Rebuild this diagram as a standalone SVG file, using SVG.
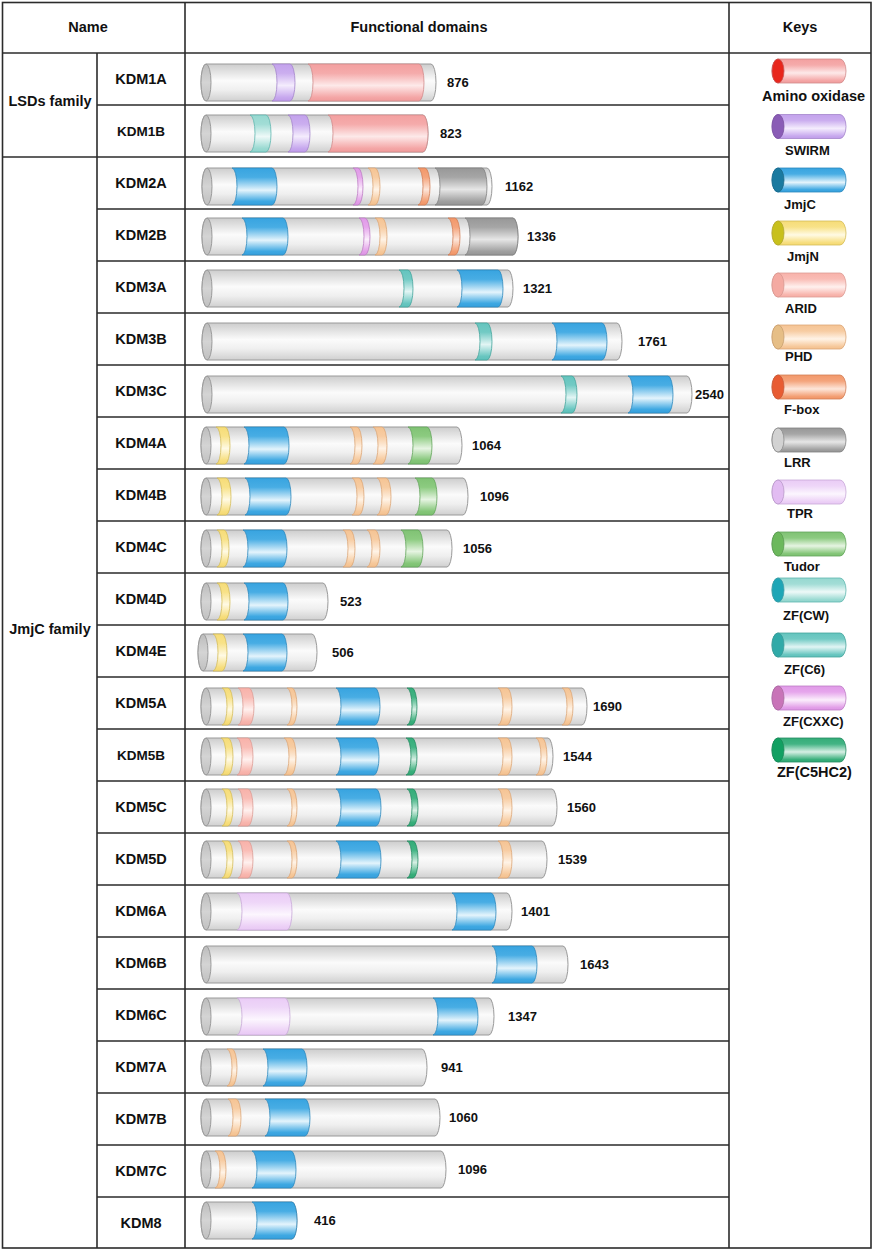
<svg xmlns="http://www.w3.org/2000/svg" width="873" height="1250" viewBox="0 0 873 1250">
<defs>
<linearGradient id="gBody" x1="0" y1="0" x2="0" y2="1"><stop offset="0" stop-color="#cdcdcd"/><stop offset="0.45" stop-color="#fbfbfb"/><stop offset="0.7" stop-color="#efefef"/><stop offset="1" stop-color="#d0d0d0"/></linearGradient>
<linearGradient id="gCap" x1="0" y1="0" x2="0" y2="1"><stop offset="0" stop-color="#bcbcbc"/><stop offset="0.5" stop-color="#d4d4d4"/><stop offset="1" stop-color="#c0c0c0"/></linearGradient>
<linearGradient id="gAO" x1="0" y1="0" x2="0" y2="1"><stop offset="0" stop-color="#f3a0a0"/><stop offset="0.25" stop-color="#f5abab"/><stop offset="0.58" stop-color="#fde9e9"/><stop offset="0.9" stop-color="#f4a6a6"/><stop offset="1" stop-color="#ef9c9c"/></linearGradient>
<linearGradient id="gSW" x1="0" y1="0" x2="0" y2="1"><stop offset="0" stop-color="#c3a2ec"/><stop offset="0.25" stop-color="#cbaeef"/><stop offset="0.58" stop-color="#f4ecfd"/><stop offset="0.9" stop-color="#c7a8ee"/><stop offset="1" stop-color="#bf9ce8"/></linearGradient>
<linearGradient id="gJC" x1="0" y1="0" x2="0" y2="1"><stop offset="0" stop-color="#38a4e0"/><stop offset="0.25" stop-color="#48ade4"/><stop offset="0.6" stop-color="#e4f4fc"/><stop offset="0.9" stop-color="#3ea8e2"/><stop offset="1" stop-color="#369fdc"/></linearGradient>
<linearGradient id="gJN" x1="0" y1="0" x2="0" y2="1"><stop offset="0" stop-color="#f6dc78"/><stop offset="0.25" stop-color="#f8e288"/><stop offset="0.58" stop-color="#fffae4"/><stop offset="0.9" stop-color="#f7de7e"/><stop offset="1" stop-color="#f4d870"/></linearGradient>
<linearGradient id="gAR" x1="0" y1="0" x2="0" y2="1"><stop offset="0" stop-color="#f8b2aa"/><stop offset="0.25" stop-color="#f9bcb5"/><stop offset="0.58" stop-color="#fff0ee"/><stop offset="0.9" stop-color="#f8b6ae"/><stop offset="1" stop-color="#f6aca4"/></linearGradient>
<linearGradient id="gPH" x1="0" y1="0" x2="0" y2="1"><stop offset="0" stop-color="#f5c494"/><stop offset="0.25" stop-color="#f7cca2"/><stop offset="0.58" stop-color="#fff3e6"/><stop offset="0.9" stop-color="#f6c89a"/><stop offset="1" stop-color="#f3c08e"/></linearGradient>
<linearGradient id="gFB" x1="0" y1="0" x2="0" y2="1"><stop offset="0" stop-color="#f2986a"/><stop offset="0.25" stop-color="#f4a47c"/><stop offset="0.58" stop-color="#fde6da"/><stop offset="0.9" stop-color="#f39e72"/><stop offset="1" stop-color="#f09466"/></linearGradient>
<linearGradient id="gLR" x1="0" y1="0" x2="0" y2="1"><stop offset="0" stop-color="#989898"/><stop offset="0.25" stop-color="#a6a6a6"/><stop offset="0.58" stop-color="#e6e6e6"/><stop offset="0.9" stop-color="#a0a0a0"/><stop offset="1" stop-color="#949494"/></linearGradient>
<linearGradient id="gTP" x1="0" y1="0" x2="0" y2="1"><stop offset="0" stop-color="#eaccf6"/><stop offset="0.25" stop-color="#eed6f8"/><stop offset="0.58" stop-color="#fcf6fe"/><stop offset="0.9" stop-color="#ecd0f6"/><stop offset="1" stop-color="#e8c8f4"/></linearGradient>
<linearGradient id="gTU" x1="0" y1="0" x2="0" y2="1"><stop offset="0" stop-color="#80c274"/><stop offset="0.25" stop-color="#8ccb80"/><stop offset="0.58" stop-color="#e6f4e2"/><stop offset="0.9" stop-color="#84c678"/><stop offset="1" stop-color="#7cbf70"/></linearGradient>
<linearGradient id="gCW" x1="0" y1="0" x2="0" y2="1"><stop offset="0" stop-color="#96d8d0"/><stop offset="0.25" stop-color="#a2ddd6"/><stop offset="0.58" stop-color="#eef9f8"/><stop offset="0.9" stop-color="#9adad2"/><stop offset="1" stop-color="#90d4cc"/></linearGradient>
<linearGradient id="gC6" x1="0" y1="0" x2="0" y2="1"><stop offset="0" stop-color="#64c4be"/><stop offset="0.25" stop-color="#72cac4"/><stop offset="0.58" stop-color="#e2f5f4"/><stop offset="0.9" stop-color="#68c6c0"/><stop offset="1" stop-color="#5ec0ba"/></linearGradient>
<linearGradient id="gCX" x1="0" y1="0" x2="0" y2="1"><stop offset="0" stop-color="#e09ae8"/><stop offset="0.25" stop-color="#e6a6ec"/><stop offset="0.58" stop-color="#fbeefc"/><stop offset="0.9" stop-color="#e29ee8"/><stop offset="1" stop-color="#dc94e4"/></linearGradient>
<linearGradient id="gC5" x1="0" y1="0" x2="0" y2="1"><stop offset="0" stop-color="#34ac78"/><stop offset="0.25" stop-color="#42b484"/><stop offset="0.58" stop-color="#d6efe4"/><stop offset="0.9" stop-color="#38ae7a"/><stop offset="1" stop-color="#30a874"/></linearGradient>
</defs>
<style>
.ln{stroke:#2b2b2b;stroke-width:1.6;fill:none}
text{font-family:"Liberation Sans",Arial,Helvetica,sans-serif;font-weight:bold;fill:#111}
.hd{font-size:14.5px;text-anchor:middle}
.nm{font-size:14.5px;text-anchor:middle}
.nm2{font-size:13.5px;text-anchor:middle}
.num{font-size:13px}
.key{font-size:13px}
.keyw{font-size:14.5px}
.body{fill:url(#gBody);stroke:#9a9a9a;stroke-width:1}
.cap{fill:url(#gCap);stroke:#9a9a9a;stroke-width:1}
.ao{fill:url(#gAO);stroke:#d08a8a;stroke-width:.8}
.sw{fill:url(#gSW);stroke:#a384cc;stroke-width:.8}
.jc{fill:url(#gJC);stroke:#2c88bc;stroke-width:.8}
.jn{fill:url(#gJN);stroke:#d4bc58;stroke-width:.8}
.ar{fill:url(#gAR);stroke:#dc9c94;stroke-width:.8}
.ph{fill:url(#gPH);stroke:#dca676;stroke-width:.8}
.fb{fill:url(#gFB);stroke:#d27e56;stroke-width:.8}
.lr{fill:url(#gLR);stroke:#808080;stroke-width:.8}
.tp{fill:url(#gTP);stroke:#c8a8d8;stroke-width:.8}
.tu{fill:url(#gTU);stroke:#62a45a;stroke-width:.8}
.cw{fill:url(#gCW);stroke:#5eb6ae;stroke-width:.8}
.c6{fill:url(#gC6);stroke:#44a49c;stroke-width:.8}
.cx{fill:url(#gCX);stroke:#bc7cc4;stroke-width:.8}
.c5{fill:url(#gC5);stroke:#248c62;stroke-width:.8}
</style>
<rect x="0" y="0" width="873" height="1250" fill="#ffffff"/>

<g id="table">
<rect class="ln" x="2.5" y="2.5" width="868.5" height="1245.5"/>
<line class="ln" x1="2.5" y1="53" x2="871" y2="53"/>
<line class="ln" x1="185" y1="2.5" x2="185" y2="1248"/>
<line class="ln" x1="729" y1="2.5" x2="729" y2="1248"/>
<line class="ln" x1="97" y1="53" x2="97" y2="1248"/>
<line class="ln" x1="2.5" y1="157" x2="729" y2="157"/>
<path class="ln" d="M97,105H729M97,209H729M97,261H729M97,313H729M97,365H729M97,417H729M97,469H729M97,521H729M97,573H729M97,625H729M97,677H729M97,729H729M97,781H729M97,833H729M97,885H729M97,937H729M97,989H729M97,1041H729M97,1093H729M97,1145H729M97,1197H729"/>
<text class="hd" x="88" y="32">Name</text>
<text class="hd" x="419" y="32">Functional domains</text>
<text class="hd" x="800" y="32">Keys</text>
<text class="hd" x="50" y="106">LSDs family</text>
<text class="hd" x="50" y="634">JmjC family</text>
</g>

<g id="KDM1A">
<text class="nm" x="141" y="84">KDM1A</text>
<g transform="translate(0,64)">
<path class="body" d="M206,0H431a5,18.5 0 0 1 0,37H206a5,18.5 0 0 1 0,-37Z"/>
<path class="sw" d="M272,0a5,18.5 0 0 1 0,37H290a5,18.5 0 0 0 0,-37Z"/>
<path class="ao" d="M308,0a5,18.5 0 0 1 0,37H419a5,18.5 0 0 0 0,-37Z"/>
<ellipse class="cap" cx="206" cy="18.5" rx="5" ry="18.5"/>
<text class="num" x="447" y="23">876</text>
</g></g>

<g id="KDM1B">
<text class="nm2" x="141" y="136">KDM1B</text>
<g transform="translate(0,115)">
<path class="body" d="M206,0H423a5,18.5 0 0 1 0,37H206a5,18.5 0 0 1 0,-37Z"/>
<path class="cw" d="M250,0a5,18.5 0 0 1 0,37H266a5,18.5 0 0 0 0,-37Z"/>
<path class="sw" d="M288,0a5,18.5 0 0 1 0,37H305a5,18.5 0 0 0 0,-37Z"/>
<path class="ao" d="M328,0a5,18.5 0 0 1 0,37H423a5,18.5 0 0 0 0,-37Z"/>
<ellipse class="cap" cx="206" cy="18.5" rx="5" ry="18.5"/>
<text class="num" x="440" y="23">823</text>
</g></g>

<g id="KDM2A">
<text class="nm" x="141" y="188">KDM2A</text>
<g transform="translate(0,168)">
<path class="body" d="M207,0H487a5,18.5 0 0 1 0,37H207a5,18.5 0 0 1 0,-37Z"/>
<path class="jc" d="M232,0a5,18.5 0 0 1 0,37H272a5,18.5 0 0 0 0,-37Z"/>
<path class="cx" d="M353,0a5,18.5 0 0 1 0,37H358a5,18.5 0 0 0 0,-37Z"/>
<path class="ph" d="M368,0a5,18.5 0 0 1 0,37H375a5,18.5 0 0 0 0,-37Z"/>
<path class="fb" d="M418,0a5,18.5 0 0 1 0,37H425a5,18.5 0 0 0 0,-37Z"/>
<path class="lr" d="M435,0a5,18.5 0 0 1 0,37H482a5,18.5 0 0 0 0,-37Z"/>
<ellipse class="cap" cx="207" cy="18.5" rx="5" ry="18.5"/>
<text class="num" x="505" y="23">1162</text>
</g></g>

<g id="KDM2B">
<text class="nm" x="141" y="240">KDM2B</text>
<g transform="translate(0,218)">
<path class="body" d="M207,0H513a5,18.5 0 0 1 0,37H207a5,18.5 0 0 1 0,-37Z"/>
<path class="jc" d="M242,0a5,18.5 0 0 1 0,37H283a5,18.5 0 0 0 0,-37Z"/>
<path class="cx" d="M359,0a5,18.5 0 0 1 0,37H365a5,18.5 0 0 0 0,-37Z"/>
<path class="ph" d="M375,0a5,18.5 0 0 1 0,37H382a5,18.5 0 0 0 0,-37Z"/>
<path class="fb" d="M448,0a5,18.5 0 0 1 0,37H455a5,18.5 0 0 0 0,-37Z"/>
<path class="lr" d="M465,0a5,18.5 0 0 1 0,37H513a5,18.5 0 0 0 0,-37Z"/>
<ellipse class="cap" cx="207" cy="18.5" rx="5" ry="18.5"/>
<text class="num" x="527" y="23">1336</text>
</g></g>

<g id="KDM3A">
<text class="nm" x="141" y="292">KDM3A</text>
<g transform="translate(0,270)">
<path class="body" d="M207,0H508a5,18.5 0 0 1 0,37H207a5,18.5 0 0 1 0,-37Z"/>
<path class="c6" d="M399,0a5,18.5 0 0 1 0,37H408a5,18.5 0 0 0 0,-37Z"/>
<path class="jc" d="M457,0a5,18.5 0 0 1 0,37H498a5,18.5 0 0 0 0,-37Z"/>
<ellipse class="cap" cx="207" cy="18.5" rx="5" ry="18.5"/>
<text class="num" x="523" y="23">1321</text>
</g></g>

<g id="KDM3B">
<text class="nm" x="141" y="344">KDM3B</text>
<g transform="translate(0,323)">
<path class="body" d="M207,0H617a5,18.5 0 0 1 0,37H207a5,18.5 0 0 1 0,-37Z"/>
<path class="c6" d="M475,0a5,18.5 0 0 1 0,37H487a5,18.5 0 0 0 0,-37Z"/>
<path class="jc" d="M552,0a5,18.5 0 0 1 0,37H602a5,18.5 0 0 0 0,-37Z"/>
<ellipse class="cap" cx="207" cy="18.5" rx="5" ry="18.5"/>
<text class="num" x="638" y="23">1761</text>
</g></g>

<g id="KDM3C">
<text class="nm" x="141" y="396">KDM3C</text>
<g transform="translate(0,376)">
<path class="body" d="M207,0H687a5,18.5 0 0 1 0,37H207a5,18.5 0 0 1 0,-37Z"/>
<path class="c6" d="M561,0a5,18.5 0 0 1 0,37H572a5,18.5 0 0 0 0,-37Z"/>
<path class="jc" d="M628,0a5,18.5 0 0 1 0,37H668a5,18.5 0 0 0 0,-37Z"/>
<ellipse class="cap" cx="207" cy="18.5" rx="5" ry="18.5"/>
<text class="num" x="695" y="23">2540</text>
</g></g>

<g id="KDM4A">
<text class="nm" x="141" y="448">KDM4A</text>
<g transform="translate(0,427)">
<path class="body" d="M206,0H457a5,18.5 0 0 1 0,37H206a5,18.5 0 0 1 0,-37Z"/>
<path class="jn" d="M216,0a5,18.5 0 0 1 0,37H225a5,18.5 0 0 0 0,-37Z"/>
<path class="jc" d="M244,0a5,18.5 0 0 1 0,37H284a5,18.5 0 0 0 0,-37Z"/>
<path class="ph" d="M350,0a5,18.5 0 0 1 0,37H357a5,18.5 0 0 0 0,-37Z"/>
<path class="ph" d="M373,0a5,18.5 0 0 1 0,37H382a5,18.5 0 0 0 0,-37Z"/>
<path class="tu" d="M408,0a5,18.5 0 0 1 0,37H427a5,18.5 0 0 0 0,-37Z"/>
<ellipse class="cap" cx="206" cy="18.5" rx="5" ry="18.5"/>
<text class="num" x="472" y="23">1064</text>
</g></g>

<g id="KDM4B">
<text class="nm" x="141" y="500">KDM4B</text>
<g transform="translate(0,478)">
<path class="body" d="M206,0H463a5,18.5 0 0 1 0,37H206a5,18.5 0 0 1 0,-37Z"/>
<path class="jn" d="M217,0a5,18.5 0 0 1 0,37H226a5,18.5 0 0 0 0,-37Z"/>
<path class="jc" d="M245,0a5,18.5 0 0 1 0,37H286a5,18.5 0 0 0 0,-37Z"/>
<path class="ph" d="M352,0a5,18.5 0 0 1 0,37H359a5,18.5 0 0 0 0,-37Z"/>
<path class="ph" d="M377,0a5,18.5 0 0 1 0,37H386a5,18.5 0 0 0 0,-37Z"/>
<path class="tu" d="M415,0a5,18.5 0 0 1 0,37H432a5,18.5 0 0 0 0,-37Z"/>
<ellipse class="cap" cx="206" cy="18.5" rx="5" ry="18.5"/>
<text class="num" x="480" y="23">1096</text>
</g></g>

<g id="KDM4C">
<text class="nm" x="141" y="552">KDM4C</text>
<g transform="translate(0,530)">
<path class="body" d="M206,0H447a5,18.5 0 0 1 0,37H206a5,18.5 0 0 1 0,-37Z"/>
<path class="jn" d="M217,0a5,18.5 0 0 1 0,37H224a5,18.5 0 0 0 0,-37Z"/>
<path class="jc" d="M243,0a5,18.5 0 0 1 0,37H282a5,18.5 0 0 0 0,-37Z"/>
<path class="ph" d="M343,0a5,18.5 0 0 1 0,37H350a5,18.5 0 0 0 0,-37Z"/>
<path class="ph" d="M367,0a5,18.5 0 0 1 0,37H375a5,18.5 0 0 0 0,-37Z"/>
<path class="tu" d="M401,0a5,18.5 0 0 1 0,37H418a5,18.5 0 0 0 0,-37Z"/>
<ellipse class="cap" cx="206" cy="18.5" rx="5" ry="18.5"/>
<text class="num" x="463" y="23">1056</text>
</g></g>

<g id="KDM4D">
<text class="nm" x="141" y="604">KDM4D</text>
<g transform="translate(0,583)">
<path class="body" d="M206,0H323a5,18.5 0 0 1 0,37H206a5,18.5 0 0 1 0,-37Z"/>
<path class="jn" d="M217,0a5,18.5 0 0 1 0,37H225a5,18.5 0 0 0 0,-37Z"/>
<path class="jc" d="M244,0a5,18.5 0 0 1 0,37H283a5,18.5 0 0 0 0,-37Z"/>
<ellipse class="cap" cx="206" cy="18.5" rx="5" ry="18.5"/>
<text class="num" x="340" y="23">523</text>
</g></g>

<g id="KDM4E">
<text class="nm" x="141" y="656">KDM4E</text>
<g transform="translate(0,634)">
<path class="body" d="M203,0H312a5,18.5 0 0 1 0,37H203a5,18.5 0 0 1 0,-37Z"/>
<path class="jn" d="M213,0a5,18.5 0 0 1 0,37H222a5,18.5 0 0 0 0,-37Z"/>
<path class="jc" d="M243,0a5,18.5 0 0 1 0,37H282a5,18.5 0 0 0 0,-37Z"/>
<ellipse class="cap" cx="203" cy="18.5" rx="5" ry="18.5"/>
<text class="num" x="332" y="23">506</text>
</g></g>

<g id="KDM5A">
<text class="nm" x="141" y="708">KDM5A</text>
<g transform="translate(0,688)">
<path class="body" d="M206,0H582a5,18.5 0 0 1 0,37H206a5,18.5 0 0 1 0,-37Z"/>
<path class="jn" d="M222,0a5,18.5 0 0 1 0,37H228a5,18.5 0 0 0 0,-37Z"/>
<path class="ar" d="M238,0a5,18.5 0 0 1 0,37H249a5,18.5 0 0 0 0,-37Z"/>
<path class="ph" d="M287,0a5,18.5 0 0 1 0,37H292a5,18.5 0 0 0 0,-37Z"/>
<path class="jc" d="M336,0a5,18.5 0 0 1 0,37H375a5,18.5 0 0 0 0,-37Z"/>
<path class="c5" d="M407,0a5,18.5 0 0 1 0,37H412a5,18.5 0 0 0 0,-37Z"/>
<path class="ph" d="M498,0a5,18.5 0 0 1 0,37H507a5,18.5 0 0 0 0,-37Z"/>
<path class="ph" d="M562,0a5,18.5 0 0 1 0,37H568a5,18.5 0 0 0 0,-37Z"/>
<ellipse class="cap" cx="206" cy="18.5" rx="5" ry="18.5"/>
<text class="num" x="593" y="23">1690</text>
</g></g>

<g id="KDM5B">
<text class="nm2" x="141" y="760">KDM5B</text>
<g transform="translate(0,738)">
<path class="body" d="M206,0H548a5,18.5 0 0 1 0,37H206a5,18.5 0 0 1 0,-37Z"/>
<path class="jn" d="M221,0a5,18.5 0 0 1 0,37H228a5,18.5 0 0 0 0,-37Z"/>
<path class="ar" d="M237,0a5,18.5 0 0 1 0,37H248a5,18.5 0 0 0 0,-37Z"/>
<path class="ph" d="M284,0a5,18.5 0 0 1 0,37H291a5,18.5 0 0 0 0,-37Z"/>
<path class="jc" d="M336,0a5,18.5 0 0 1 0,37H374a5,18.5 0 0 0 0,-37Z"/>
<path class="c5" d="M406,0a5,18.5 0 0 1 0,37H412a5,18.5 0 0 0 0,-37Z"/>
<path class="ph" d="M498,0a5,18.5 0 0 1 0,37H507a5,18.5 0 0 0 0,-37Z"/>
<path class="ph" d="M536,0a5,18.5 0 0 1 0,37H542a5,18.5 0 0 0 0,-37Z"/>
<ellipse class="cap" cx="206" cy="18.5" rx="5" ry="18.5"/>
<text class="num" x="563" y="23">1544</text>
</g></g>

<g id="KDM5C">
<text class="nm" x="141" y="812">KDM5C</text>
<g transform="translate(0,789)">
<path class="body" d="M206,0H552a5,18.5 0 0 1 0,37H206a5,18.5 0 0 1 0,-37Z"/>
<path class="jn" d="M222,0a5,18.5 0 0 1 0,37H228a5,18.5 0 0 0 0,-37Z"/>
<path class="ar" d="M238,0a5,18.5 0 0 1 0,37H248a5,18.5 0 0 0 0,-37Z"/>
<path class="ph" d="M287,0a5,18.5 0 0 1 0,37H292a5,18.5 0 0 0 0,-37Z"/>
<path class="jc" d="M336,0a5,18.5 0 0 1 0,37H376a5,18.5 0 0 0 0,-37Z"/>
<path class="c5" d="M407,0a5,18.5 0 0 1 0,37H413a5,18.5 0 0 0 0,-37Z"/>
<path class="ph" d="M498,0a5,18.5 0 0 1 0,37H507a5,18.5 0 0 0 0,-37Z"/>
<ellipse class="cap" cx="206" cy="18.5" rx="5" ry="18.5"/>
<text class="num" x="567" y="23">1560</text>
</g></g>

<g id="KDM5D">
<text class="nm" x="141" y="864">KDM5D</text>
<g transform="translate(0,841)">
<path class="body" d="M206,0H542a5,18.5 0 0 1 0,37H206a5,18.5 0 0 1 0,-37Z"/>
<path class="jn" d="M222,0a5,18.5 0 0 1 0,37H228a5,18.5 0 0 0 0,-37Z"/>
<path class="ar" d="M238,0a5,18.5 0 0 1 0,37H248a5,18.5 0 0 0 0,-37Z"/>
<path class="ph" d="M287,0a5,18.5 0 0 1 0,37H292a5,18.5 0 0 0 0,-37Z"/>
<path class="jc" d="M336,0a5,18.5 0 0 1 0,37H376a5,18.5 0 0 0 0,-37Z"/>
<path class="c5" d="M407,0a5,18.5 0 0 1 0,37H413a5,18.5 0 0 0 0,-37Z"/>
<path class="ph" d="M498,0a5,18.5 0 0 1 0,37H507a5,18.5 0 0 0 0,-37Z"/>
<ellipse class="cap" cx="206" cy="18.5" rx="5" ry="18.5"/>
<text class="num" x="558" y="23">1539</text>
</g></g>

<g id="KDM6A">
<text class="nm" x="141" y="916">KDM6A</text>
<g transform="translate(0,893)">
<path class="body" d="M206,0H507a5,18.5 0 0 1 0,37H206a5,18.5 0 0 1 0,-37Z"/>
<path class="tp" d="M237,0a5,18.5 0 0 1 0,37H287a5,18.5 0 0 0 0,-37Z"/>
<path class="jc" d="M452,0a5,18.5 0 0 1 0,37H491a5,18.5 0 0 0 0,-37Z"/>
<ellipse class="cap" cx="206" cy="18.5" rx="5" ry="18.5"/>
<text class="num" x="521" y="23">1401</text>
</g></g>

<g id="KDM6B">
<text class="nm" x="141" y="968">KDM6B</text>
<g transform="translate(0,946)">
<path class="body" d="M206,0H563a5,18.5 0 0 1 0,37H206a5,18.5 0 0 1 0,-37Z"/>
<path class="jc" d="M492,0a5,18.5 0 0 1 0,37H532a5,18.5 0 0 0 0,-37Z"/>
<ellipse class="cap" cx="206" cy="18.5" rx="5" ry="18.5"/>
<text class="num" x="580" y="23">1643</text>
</g></g>

<g id="KDM6C">
<text class="nm" x="141" y="1020">KDM6C</text>
<g transform="translate(0,998)">
<path class="body" d="M206,0H489a5,18.5 0 0 1 0,37H206a5,18.5 0 0 1 0,-37Z"/>
<path class="tp" d="M237,0a5,18.5 0 0 1 0,37H285a5,18.5 0 0 0 0,-37Z"/>
<path class="jc" d="M433,0a5,18.5 0 0 1 0,37H473a5,18.5 0 0 0 0,-37Z"/>
<ellipse class="cap" cx="206" cy="18.5" rx="5" ry="18.5"/>
<text class="num" x="508" y="23">1347</text>
</g></g>

<g id="KDM7A">
<text class="nm" x="141" y="1072">KDM7A</text>
<g transform="translate(0,1049)">
<path class="body" d="M206,0H422a5,18.5 0 0 1 0,37H206a5,18.5 0 0 1 0,-37Z"/>
<path class="ph" d="M227,0a5,18.5 0 0 1 0,37H232a5,18.5 0 0 0 0,-37Z"/>
<path class="jc" d="M263,0a5,18.5 0 0 1 0,37H302a5,18.5 0 0 0 0,-37Z"/>
<ellipse class="cap" cx="206" cy="18.5" rx="5" ry="18.5"/>
<text class="num" x="441" y="23">941</text>
</g></g>

<g id="KDM7B">
<text class="nm" x="141" y="1124">KDM7B</text>
<g transform="translate(0,1099)">
<path class="body" d="M206,0H435a5,18.5 0 0 1 0,37H206a5,18.5 0 0 1 0,-37Z"/>
<path class="ph" d="M228,0a5,18.5 0 0 1 0,37H236a5,18.5 0 0 0 0,-37Z"/>
<path class="jc" d="M265,0a5,18.5 0 0 1 0,37H305a5,18.5 0 0 0 0,-37Z"/>
<ellipse class="cap" cx="206" cy="18.5" rx="5" ry="18.5"/>
<text class="num" x="449" y="23">1060</text>
</g></g>

<g id="KDM7C">
<text class="nm" x="141" y="1176">KDM7C</text>
<g transform="translate(0,1151)">
<path class="body" d="M206,0H441a5,18.5 0 0 1 0,37H206a5,18.5 0 0 1 0,-37Z"/>
<path class="ph" d="M215,0a5,18.5 0 0 1 0,37H221a5,18.5 0 0 0 0,-37Z"/>
<path class="jc" d="M252,0a5,18.5 0 0 1 0,37H291a5,18.5 0 0 0 0,-37Z"/>
<ellipse class="cap" cx="206" cy="18.5" rx="5" ry="18.5"/>
<text class="num" x="458" y="23">1096</text>
</g></g>

<g id="KDM8">
<text class="nm" x="141" y="1228">KDM8</text>
<g transform="translate(0,1202)">
<path class="body" d="M206,0H292a5,18.5 0 0 1 0,37H206a5,18.5 0 0 1 0,-37Z"/>
<path class="jc" d="M252,0a5,18.5 0 0 1 0,37H292a5,18.5 0 0 0 0,-37Z"/>
<ellipse class="cap" cx="206" cy="18.5" rx="5" ry="18.5"/>
<text class="num" x="314" y="23">416</text>
</g></g>

<g id="keys">
<g id="key-amino-oxidase" transform="translate(0,59)">
<path class="ao" d="M778,0H840a6,12 0 0 1 0,24H778a6,12 0 0 1 0,-24Z"/>
<ellipse cx="778" cy="12" rx="6" ry="12" fill="#e8261c" stroke="#c85050" stroke-width=".8"/>
<text class="keyw" x="762" y="42">Amino oxidase</text>
</g>
<g id="key-swirm" transform="translate(0,114.5)">
<path class="sw" d="M778,0H840a6,12 0 0 1 0,24H778a6,12 0 0 1 0,-24Z"/>
<ellipse cx="778" cy="12" rx="6" ry="12" fill="#8a5cb6" stroke="#7a50a0" stroke-width=".8"/>
<text class="key" x="785" y="40.5">SWIRM</text>
</g>
<g id="key-jmjc" transform="translate(0,168)">
<path class="jc" d="M778,0H840a6,12 0 0 1 0,24H778a6,12 0 0 1 0,-24Z"/>
<ellipse cx="778" cy="12" rx="6" ry="12" fill="#1a7aa0" stroke="#1a6888" stroke-width=".8"/>
<text class="key" x="784" y="41">JmjC</text>
</g>
<g id="key-jmjn" transform="translate(0,221)">
<path class="jn" d="M778,0H840a6,12 0 0 1 0,24H778a6,12 0 0 1 0,-24Z"/>
<ellipse cx="778" cy="12" rx="6" ry="12" fill="#c8c01c" stroke="#b0a830" stroke-width=".8"/>
<text class="key" x="787" y="40">JmjN</text>
</g>
<g id="key-arid" transform="translate(0,273)">
<path class="ar" d="M778,0H840a6,12 0 0 1 0,24H778a6,12 0 0 1 0,-24Z"/>
<ellipse cx="778" cy="12" rx="6" ry="12" fill="#f4aaa2" stroke="#d89890" stroke-width=".8"/>
<text class="key" x="785" y="40">ARID</text>
</g>
<g id="key-phd" transform="translate(0,325)">
<path class="ph" d="M778,0H840a6,12 0 0 1 0,24H778a6,12 0 0 1 0,-24Z"/>
<ellipse cx="778" cy="12" rx="6" ry="12" fill="#e6be86" stroke="#c8a070" stroke-width=".8"/>
<text class="key" x="785" y="36">PHD</text>
</g>
<g id="key-f-box" transform="translate(0,375)">
<path class="fb" d="M778,0H840a6,12 0 0 1 0,24H778a6,12 0 0 1 0,-24Z"/>
<ellipse cx="778" cy="12" rx="6" ry="12" fill="#e85c32" stroke="#c85a3a" stroke-width=".8"/>
<text class="key" x="784" y="39">F-box</text>
</g>
<g id="key-lrr" transform="translate(0,428)">
<path class="lr" d="M778,0H840a6,12 0 0 1 0,24H778a6,12 0 0 1 0,-24Z"/>
<ellipse cx="778" cy="12" rx="6" ry="12" fill="#d2d2d2" stroke="#8a8a8a" stroke-width=".8"/>
<text class="key" x="784" y="39">LRR</text>
</g>
<g id="key-tpr" transform="translate(0,480)">
<path class="tp" d="M778,0H840a6,12 0 0 1 0,24H778a6,12 0 0 1 0,-24Z"/>
<ellipse cx="778" cy="12" rx="6" ry="12" fill="#e2bcf2" stroke="#b898c8" stroke-width=".8"/>
<text class="key" x="787" y="38">TPR</text>
</g>
<g id="key-tudor" transform="translate(0,532)">
<path class="tu" d="M778,0H840a6,12 0 0 1 0,24H778a6,12 0 0 1 0,-24Z"/>
<ellipse cx="778" cy="12" rx="6" ry="12" fill="#6cb85c" stroke="#5a9a50" stroke-width=".8"/>
<text class="key" x="784" y="39">Tudor</text>
</g>
<g id="key-zf-cw" transform="translate(0,578)">
<path class="cw" d="M778,0H840a6,12 0 0 1 0,24H778a6,12 0 0 1 0,-24Z"/>
<ellipse cx="778" cy="12" rx="6" ry="12" fill="#1ea6b6" stroke="#3a9aa6" stroke-width=".8"/>
<text class="key" x="783" y="42">ZF(CW)</text>
</g>
<g id="key-zf-c6" transform="translate(0,633)">
<path class="c6" d="M778,0H840a6,12 0 0 1 0,24H778a6,12 0 0 1 0,-24Z"/>
<ellipse cx="778" cy="12" rx="6" ry="12" fill="#30aaa8" stroke="#3a9a98" stroke-width=".8"/>
<text class="key" x="784" y="41">ZF(C6)</text>
</g>
<g id="key-zf-cxxc" transform="translate(0,686)">
<path class="cx" d="M778,0H840a6,12 0 0 1 0,24H778a6,12 0 0 1 0,-24Z"/>
<ellipse cx="778" cy="12" rx="6" ry="12" fill="#c874b8" stroke="#a86aa0" stroke-width=".8"/>
<text class="key" x="783" y="40">ZF(CXXC)</text>
</g>
<g id="key-zf-c5hc2" transform="translate(0,738)">
<path class="c5" d="M778,0H840a6,12 0 0 1 0,24H778a6,12 0 0 1 0,-24Z"/>
<ellipse cx="778" cy="12" rx="6" ry="12" fill="#12a062" stroke="#1a8a58" stroke-width=".8"/>
<text class="keyw" x="777" y="39">ZF(C5HC2)</text>
</g>
</g>
</svg>
